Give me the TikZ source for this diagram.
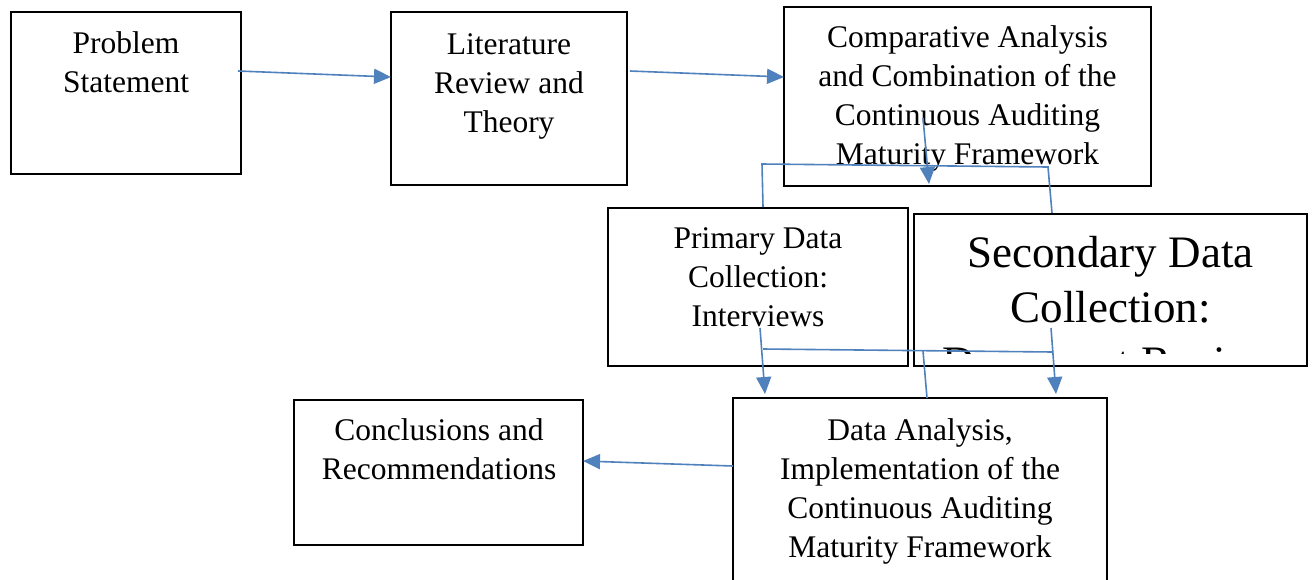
\documentclass[tikz,border=0pt]{standalone}
\usepackage{fontspec}
\setmainfont{Liberation Serif}
\usetikzlibrary{arrows.meta}
\definecolor{conblue}{HTML}{4F81BD}
\begin{document}
\begin{tikzpicture}[x=1pt,y=-1pt,
  box/.style={draw=black,line width=2pt,fill=white,rectangle,inner sep=0pt},
  txt/.style={align=center,inner sep=0pt,anchor=base,font=\fontsize{31.5}{39}\selectfont},
  bigtxt/.style={align=center,inner sep=0pt,anchor=base,font=\fontsize{45}{55}\selectfont},
  conn/.style={draw=conblue,line width=1.6pt},
  arr/.style={conn,-{Triangle[length=17pt,width=15pt]}}]
\clip (0,0) rectangle (1313,579);
\fill[white] (0,0) rectangle (1313,579);
% boxes
\node[box,minimum width=230pt,minimum height=162pt] (ps) at (126,93) {};
\node[box,minimum width=236pt,minimum height=173pt] (lit) at (509,98.5) {};
\node[box,minimum width=367pt,minimum height=179pt] (comp) at (967.5,96.5) {};
\node[box,minimum width=300pt,minimum height=158pt] (prim) at (758,287) {};
\node[box,minimum width=393pt,minimum height=152pt] (sec) at (1110.5,290) {};
\node[box,minimum width=289pt,minimum height=145pt] (conc) at (438.5,472.5) {};
\node[box,minimum width=374pt,minimum height=222pt] (da) at (920,509) {};
% texts (anchor base = baseline of last line)
\node[txt] (pst) at (126,92) {Problem\\Statement};
\node[txt] (litt) at (509,132) {Literature\\Review and\\Theory};
\node[txt] (compt) at (967.5,164) {Comparative Analysis\\and Combination of the\\Continuous Auditing\\Maturity Framework};
\node[txt] (primt) at (758,326) {Primary Data\\Collection:\\Interviews};
\begin{scope}
\clip (915,215) rectangle (1306,353);
\node[bigtxt] (sect) at (1110.5,377) {Secondary Data\\Collection:\\Document Review};
\end{scope}
\node[txt] (conct) at (439,479) {Conclusions and\\Recommendations};
\node[txt] (dat) at (920,557) {Data Analysis,\\Implementation of the\\Continuous Auditing\\Maturity Framework};
% connector points
\coordinate (a1s) at (238,71);
\coordinate (a1e) at (391,77);
\coordinate (a2s) at (630,71);
\coordinate (a2e) at (784,77);
\coordinate (d1s) at (923,118);
\coordinate (d1e) at (929,184);
\coordinate (h1l) at (762,164);
\coordinate (h1r) at (1048,167);
\coordinate (v1l) at (763,207);
\coordinate (v1r) at (1052,213);
\coordinate (l2s) at (760,328);
\coordinate (l2e) at (765,394);
\coordinate (h2l) at (763,349);
\coordinate (h2r) at (1053,352);
\coordinate (r2s) at (1051,328);
\coordinate (r2e) at (1056,394);
\coordinate (m2s) at (923,351);
\coordinate (m2e) at (927,398);
\coordinate (a3s) at (733,466);
\coordinate (a3e) at (583,461);
% connectors
\draw[arr] (a1s) -- (a1e);
\draw[arr] (a2s) -- (a2e);
\draw[arr] (d1s) -- (d1e);
\draw[conn] (v1l) -- (h1l) -- (h1r) -- (v1r);
\draw[arr] (l2s) -- (l2e);
\draw[conn] (h2l) -- (h2r);
\draw[arr] (r2s) -- (r2e);
\draw[conn] (m2s) -- (m2e);
\draw[arr] (a3s) -- (a3e);
\end{tikzpicture}
\end{document}
